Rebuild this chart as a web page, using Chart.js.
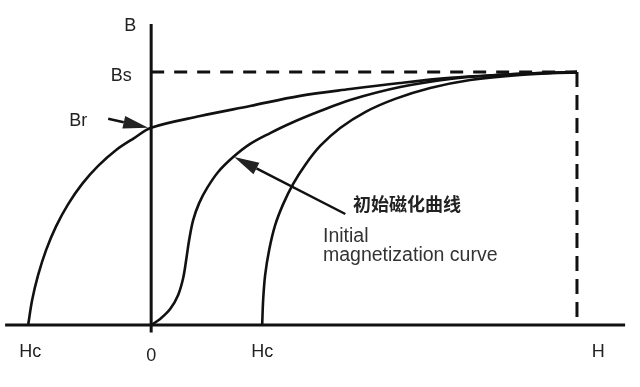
<!DOCTYPE html>
<html>
    <head>
        <title>Hysteresis</title>
        <script src="https://cdn.jsdelivr.net/npm/chart.js@4.4.0/dist/chart.umd.min.js"></script>
        <style>
            body { margin: 0; background: #fff; }
            #wrap { width: 640px; height: 387px; }
        </style>
        <script type="text/javascript">
            // curve values (H in arbitrary units, B with Bs = 1)
            const descH = [-2.889, -2.795, -2.654, -2.466, -2.231, -1.949, -1.620, -1.245, -0.822, -0.399, 0,
                1.151, 2.325, 3.499, 4.673, 5.848, 7.022, 8.196, 9.136, 10.0];
            const descB = [0, 0.099, 0.198, 0.297, 0.391, 0.478, 0.558, 0.629, 0.692, 0.739, 0.78,
                0.826, 0.866, 0.906, 0.933, 0.957, 0.977, 0.989, 0.996, 1.0];
            const initH = [0, 0.211, 0.446, 0.634, 0.752, 0.822, 0.892, 0.986, 1.127, 1.315, 1.573, 1.926,
                2.325, 2.795, 3.264, 3.969, 4.673, 5.848, 7.022, 8.196, 9.136, 10.0];
            const initB = [0, 0.024, 0.063, 0.119, 0.186, 0.257, 0.336, 0.415, 0.482, 0.542, 0.605, 0.664,
                0.716, 0.759, 0.797, 0.846, 0.890, 0.941, 0.973, 0.989, 0.996, 1.0];
            const ascH = [2.607, 2.630, 2.677, 2.771, 2.912, 3.100, 3.335, 3.617, 3.969, 4.439, 5.026, 5.730,
                6.552, 7.492, 8.666, 10.0];
            const ascB = [0, 0.099, 0.198, 0.297, 0.395, 0.478, 0.558, 0.633, 0.708, 0.779, 0.842, 0.894,
                0.937, 0.969, 0.989, 1.0];

            const Bs = 1.0;
            const Br = 0.78;
            const Hs = 10.0;
            const hAxis = [-3.43, 11.13];
            const bAxis = [-0.03, 1.19];

            const hTickLabels = ['Hc', '0', 'Hc', 'H'];
            const hTickValues = [-2.84, 0, 2.61, 10.5];
            const bLabels = ['B', 'Bs', 'Br'];
            const bValues = [1.19, 1.0, 0.78];

            const noteZh = '初始磁化曲线';
            const noteEn = ['Initial', 'magnetization curve'];
            // arrow pointing at the initial curve: tail, tip
            const noteArrow = [[4.56, 0.439], [1.95, 0.664]];

            document.addEventListener('DOMContentLoaded', init);

            function pts(hs, bs) {
                let out = [];
                for (let i = 0; i < hs.length; i++) {
                    out.push({x: hs[i], y: bs[i]});
                }
                return out;
            }

            function arrow(ctx, x1, y1, x2, y2, len, half) {
                let a = Math.atan2(y2 - y1, x2 - x1);
                let bx = x2 - len * Math.cos(a), by = y2 - len * Math.sin(a);
                ctx.beginPath();
                ctx.moveTo(x1, y1);
                ctx.lineTo(bx, by);
                ctx.stroke();
                ctx.beginPath();
                ctx.moveTo(x2, y2);
                ctx.lineTo(bx + half * Math.sin(a), by - half * Math.cos(a));
                ctx.lineTo(bx - half * Math.sin(a), by + half * Math.cos(a));
                ctx.closePath();
                ctx.fill();
            }

            const notes = {
                id: 'notes',
                afterDatasetsDraw(chart) {
                    const ctx = chart.ctx;
                    const sx = chart.scales.x, sy = chart.scales.y;
                    ctx.save();
                    ctx.fillStyle = '#222';
                    ctx.strokeStyle = '#111';
                    ctx.textBaseline = 'middle';
                    ctx.textAlign = 'center';
                    ctx.font = '18px "Liberation Sans", Arial, sans-serif';
                    // H axis labels
                    for (let i = 0; i < hTickLabels.length; i++) {
                        let dy = hTickLabels[i] === '0' ? 31 : 27;
                        ctx.fillText(hTickLabels[i], sx.getPixelForValue(hTickValues[i]), sy.getPixelForValue(0) + dy);
                    }
                    // B axis labels
                    let x0 = sx.getPixelForValue(0);
                    ctx.fillText(bLabels[0], x0 - 21, sy.getPixelForValue(bValues[0]) + 2);
                    ctx.fillText(bLabels[1], x0 - 30, sy.getPixelForValue(bValues[1]) + 4);
                    ctx.fillText(bLabels[2], x0 - 73, sy.getPixelForValue(bValues[2]) - 7);
                    // Br arrow
                    ctx.lineWidth = 2.5;
                    let brY = sy.getPixelForValue(Br);
                    arrow(ctx, x0 - 43, brY - 9, x0 - 3, brY, 25, 6.5);
                    // initial curve arrow
                    arrow(ctx, sx.getPixelForValue(noteArrow[0][0]), sy.getPixelForValue(noteArrow[0][1]),
                        sx.getPixelForValue(noteArrow[1][0]), sy.getPixelForValue(noteArrow[1][1]), 25, 6.5);
                    // notes
                    ctx.textAlign = 'left';
                    ctx.font = 'bold 18px "Noto Sans CJK SC", sans-serif';
                    ctx.fillText(noteZh, 353, 204);
                    ctx.fillStyle = '#333';
                    ctx.font = '19.5px "Liberation Sans", Arial, sans-serif';
                    ctx.fillText(noteEn[0], 323, 237);
                    ctx.fillText(noteEn[1], 323, 256);
                    ctx.restore();
                }
            };

            function init() {
                const line = {borderColor: '#111', borderWidth: 2.6, pointRadius: 0, showLine: true, clip: false};
                let ctx = document.getElementById('myChart').getContext('2d');
                let chart = new Chart(ctx, {
                    type: 'scatter',
                    data: {
                        datasets: [
                            Object.assign({data: [{x: hAxis[0], y: 0}, {x: hAxis[1], y: 0}]}, line, {borderWidth: 3}),
                            Object.assign({data: [{x: 0, y: bAxis[0]}, {x: 0, y: bAxis[1]}]}, line, {borderWidth: 3}),
                            Object.assign({data: [{x: 0, y: Bs}, {x: Hs, y: Bs}]}, line, {borderWidth: 3, borderDash: [13, 10]}),
                            Object.assign({data: [{x: Hs, y: Bs}, {x: Hs, y: 0}]}, line, {borderWidth: 3, borderDash: [15, 8]}),
                            Object.assign({data: pts(descH, descB), tension: 0.35}, line),
                            Object.assign({data: pts(initH, initB), tension: 0.35}, line),
                            Object.assign({data: pts(ascH, ascB), tension: 0.35}, line)
                        ]
                    },
                    options: {
                        responsive: true,
                        maintainAspectRatio: false,
                        animation: false,
                        layout: {padding: 0},
                        plugins: {legend: {display: false}, tooltip: {enabled: false}},
                        scales: {
                            x: {type: 'linear', min: -3.55, max: 11.48, display: false},
                            y: {type: 'linear', min: -0.245, max: 1.285, display: false}
                        }
                    },
                    plugins: [notes]
                });
            }
        </script>
    </head>
    <body>
        <div id="wrap">
            <canvas id="myChart"></canvas>
        </div>
    </body>
</html>
